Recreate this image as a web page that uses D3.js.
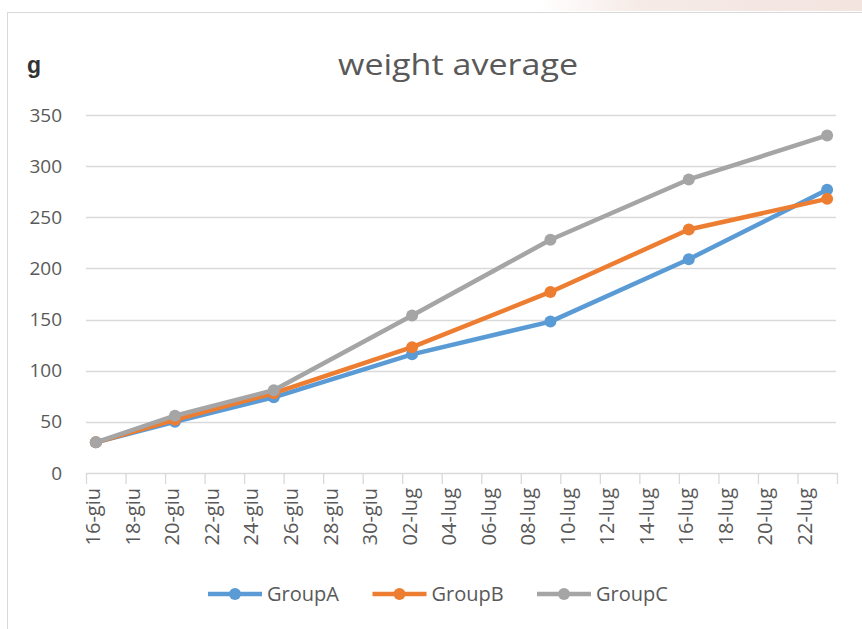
<!DOCTYPE html>
<html>
<head>
<meta charset="utf-8">
<script src="https://cdn.jsdelivr.net/npm/d3@7"></script>
<style>
  body { margin: 0; background: #fff; }
  svg { display: block; font-family: "Open Sans", "DejaVu Sans", sans-serif; }
</style>
</head>
<body>
<svg width="862" height="629"></svg>
<script>
// weigh-in dates (days of the trial)
var dates = ["2019-06-16", "2019-06-20", "2019-06-25", "2019-07-02", "2019-07-09", "2019-07-16", "2019-07-23"];
var groupA = [30, 50, 74, 116, 148, 209, 277];
var groupB = [30, 52, 78, 123, 177, 238, 268];
var groupC = [30, 56, 81, 154, 228, 287, 330];
var seriesNames = ["GroupA", "GroupB", "GroupC"];
var colors = ["#5b9bd5", "#ed7d31", "#a5a5a5"];
var yTicks = [0, 50, 100, 150, 200, 250, 300, 350];
var axisStart = "2019-06-16", axisEnd = "2019-07-24";

var svg = d3.select("svg");

// italian month names for the x labels
var it = d3.timeFormatLocale({
  dateTime: "%A %e %B %Y, %X", date: "%d/%m/%Y", time: "%H:%M:%S",
  periods: ["AM", "PM"],
  days: ["domenica", "lunedì", "martedì", "mercoledì", "giovedì", "venerdì", "sabato"],
  shortDays: ["dom", "lun", "mar", "mer", "gio", "ven", "sab"],
  months: ["gennaio", "febbraio", "marzo", "aprile", "maggio", "giugno", "luglio", "agosto", "settembre", "ottobre", "novembre", "dicembre"],
  shortMonths: ["gen", "feb", "mar", "apr", "mag", "giu", "lug", "ago", "set", "ott", "nov", "dic"]
});
var fmt = it.utcFormat("%d-%b");
var parse = d3.utcParse("%Y-%m-%d");

var t0 = parse(axisStart), t1 = parse(axisEnd);
var x = d3.scaleUtc().domain([t0, t1]).range([86, 837]);
var y = d3.scaleLinear().domain([0, 350]).range([473, 115]);
var halfDay = (x(d3.utcDay.offset(t0, 1)) - x(t0)) / 2;

// faint bit of the page showing above the chart
var grad = svg.append("defs").append("linearGradient").attr("id", "strip");
grad.append("stop").attr("offset", "0").attr("stop-color", "#fff");
grad.append("stop").attr("offset", "0.3").attr("stop-color", "#f6ebe7");
grad.append("stop").attr("offset", "1").attr("stop-color", "#f3e4df");
svg.append("rect").attr("x", 540).attr("y", 0).attr("width", 322).attr("height", 11)
  .attr("fill", "url(#strip)");

// chart frame
svg.append("rect").attr("x", 7.5).attr("y", 12.5).attr("width", 900).attr("height", 700)
  .attr("fill", "#fff").attr("stroke", "#d9d9d9");

// gridlines
svg.append("g").selectAll("line").data(yTicks.slice(1)).join("line")
  .attr("x1", 86).attr("x2", 836)
  .attr("y1", function(d) { return Math.round(y(d)) + 0.5; })
  .attr("y2", function(d) { return Math.round(y(d)) + 0.5; })
  .attr("stroke", "#d9d9d9").attr("stroke-width", 1.3);

// y labels
var yAxis = svg.append("g").attr("transform", "translate(86,0)")
  .call(d3.axisLeft(y).tickValues(yTicks).tickSize(0).tickPadding(24));
yAxis.select(".domain").remove();
yAxis.selectAll("text").attr("font-size", 19).attr("fill", "#595959")
  .attr("font-family", "Open Sans");

// x axis, ticks every 2 days, labels sit on the day slot
var xTicks = d3.utcDay.range(t0, d3.utcDay.offset(t1, 1), 2);
var xAxis = svg.append("g").attr("transform", "translate(0,473)")
  .call(d3.axisBottom(x).tickValues(xTicks).tickSize(11).tickSizeOuter(0)
    .tickFormat(function(d) { return +d === +t1 ? "" : fmt(d); }));
xAxis.select(".domain").attr("stroke", "#d9d9d9").attr("stroke-width", 1.3);
xAxis.selectAll(".tick line").attr("stroke", "#d9d9d9").attr("stroke-width", 1.3);
xAxis.selectAll("text")
  .attr("transform", "rotate(-90)")
  .attr("text-anchor", "end")
  .attr("x", -15).attr("y", halfDay - 3).attr("dy", "0.35em")
  .attr("font-size", 20).attr("fill", "#595959").attr("font-family", "Open Sans");

// series
var series = [groupA, groupB, groupC].map(function(vals, i) {
  return { name: seriesNames[i], color: colors[i],
    points: vals.map(function(v, j) { return { date: parse(dates[j]), value: v }; }) };
});
var line = d3.line()
  .x(function(d) { return x(d.date) + halfDay; })
  .y(function(d) { return y(d.value); });

var sg = svg.append("g").selectAll("g").data(series).join("g");
sg.append("path")
  .attr("d", function(s) { return line(s.points); })
  .attr("fill", "none").attr("stroke", function(s) { return s.color; })
  .attr("stroke-width", 4.5).attr("stroke-linejoin", "round").attr("stroke-linecap", "round");
sg.selectAll("circle").data(function(s) { return s.points.map(function(p) { return { p: p, c: s.color }; }); })
  .join("circle")
  .attr("cx", function(d) { return x(d.p.date) + halfDay; })
  .attr("cy", function(d) { return y(d.p.value); })
  .attr("r", 6).attr("fill", function(d) { return d.c; });

// title and unit
svg.append("text").attr("x", 458).attr("y", 75).attr("text-anchor", "middle")
  .attr("font-size", 30).attr("fill", "#595959").attr("font-family", "Open Sans")
  .attr("textLength", 240).attr("lengthAdjust", "spacingAndGlyphs")
  .text("weight average");
svg.append("text").attr("x", 27).attr("y", 73)
  .attr("font-size", 23).attr("font-weight", "bold").attr("fill", "#333")
  .attr("font-family", "Liberation Sans")
  .text("g");

// legend
var lg = svg.append("g").selectAll("g").data(series).join("g")
  .attr("transform", function(d, i) { return "translate(" + (208 + i * 164.5) + ",594)"; });
lg.append("line").attr("x1", 0).attr("x2", 54)
  .attr("stroke", function(d) { return d.color; }).attr("stroke-width", 4.5);
lg.append("circle").attr("cx", 27).attr("r", 6).attr("fill", function(d) { return d.color; });
lg.append("text").attr("x", 59).attr("dy", "0.35em")
  .attr("font-size", 20).attr("fill", "#595959").attr("font-family", "Open Sans")
  .text(function(d) { return d.name; });
</script>
</body>
</html>
